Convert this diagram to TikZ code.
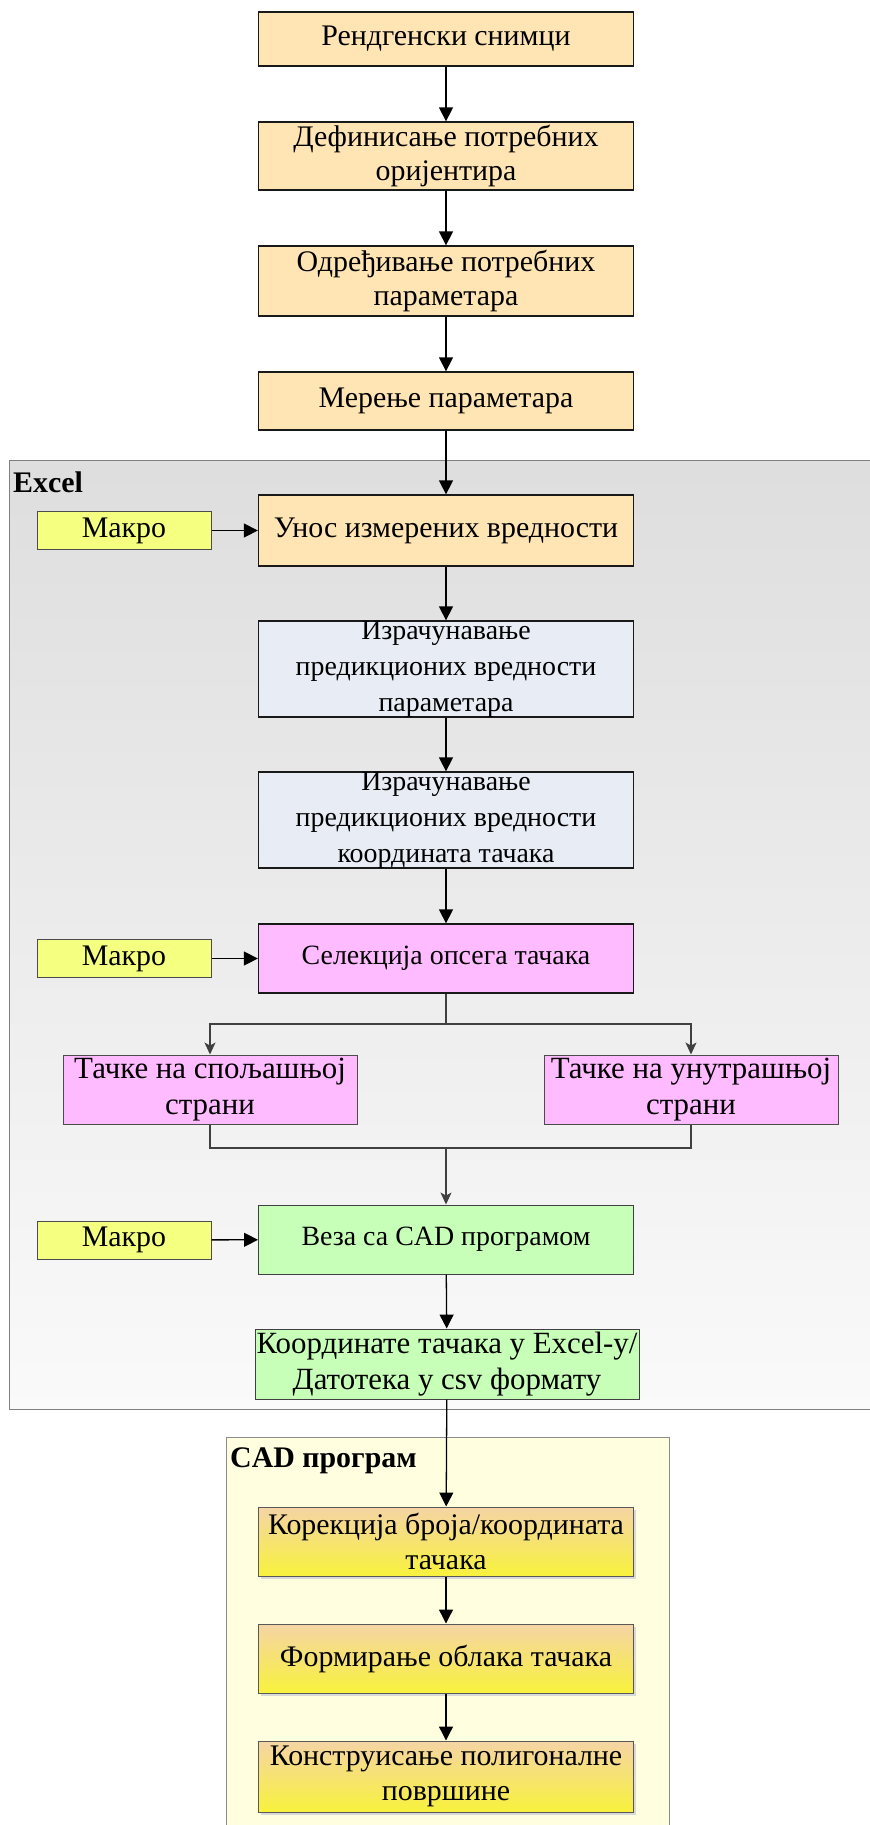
\documentclass[tikz,border=0pt]{standalone}
\usepackage{fontspec}
\setmainfont{Liberation Serif}
\usetikzlibrary{arrows.meta, shadows}

\definecolor{narandzasta}{RGB}{255,229,180}
\definecolor{makro}{RGB}{245,255,128}
\definecolor{plavkasta}{RGB}{232,237,245}
\definecolor{roze}{RGB}{255,187,255}
\definecolor{zelena}{RGB}{200,255,184}
\definecolor{cadpozadina}{RGB}{255,255,224}
\definecolor{gradgore}{RGB}{245,212,165}
\definecolor{graddole}{RGB}{248,242,60}

\begin{document}
\begin{tikzpicture}[x=1bp, y=-1bp,
    korak/.style={draw=black!90, line width=1.3pt, minimum width=375bp, inner sep=0pt,
        align=center, font=\fontsize{30}{35}\selectfont},
    sitno/.style={font=\fontsize{28}{36}\selectfont},
    krupno/.style={font=\fontsize{31}{36}\selectfont},
    makrobox/.style={draw=black!70, line width=1pt, fill=makro, minimum width=174bp,
        minimum height=38bp, inner sep=0pt, font=\fontsize{30}{34}\selectfont},
    cadkorak/.style={korak, draw=black!65, line width=1pt, top color=gradgore, bottom color=graddole,
        drop shadow={shadow xshift=3pt, shadow yshift=-3pt, fill=black!15, opacity=1}},
    strelica/.style={-{Triangle[length=14pt, width=14pt]}, line width=1.3pt, black},
    grana/.style={-{Stealth[length=12pt, width=11pt, inset=3pt]}, line width=1.3pt, black!75},
    linija/.style={line width=1.3pt, black!75},
    naslov/.style={anchor=base west, inner sep=0pt, font=\fontsize{30}{34}\selectfont\bfseries}]

    % Okvir slike
    \useasboundingbox (0,0) rectangle (870,1825);

    % Grupa Excel i grupa CAD program
    \draw[gray, line width=1pt, top color=black!13, bottom color=black!2] (9,460) rectangle (880,1409);
    \node[naslov] (excel) at (13,492) {Excel};
    \draw[black!45, line width=1pt, fill=cadpozadina] (226,1437) rectangle (669,1840);
    \node[naslov] (cad) at (230,1467) {CAD програм};

    % Koraci pre Excel-a
    \node[korak, fill=narandzasta, minimum height=54bp] (snimci) at (446,39) {Рендгенски снимци};
    \node[korak, fill=narandzasta, minimum height=68bp] (orijentiri) at (446,156) {Дефинисање потребних\\ оријентира};
    \node[korak, fill=narandzasta, minimum height=70bp] (parametri) at (446,281) {Одређивање потребних\\ параметара};
    \node[korak, fill=narandzasta, minimum height=58bp] (merenje) at (446,401) {Мерење параметара};

    % Koraci u Excel-u
    \node[korak, fill=narandzasta, minimum height=71bp] (unos) at (446,530.5) {Унос измерених вредности};
    \node[korak, sitno, fill=plavkasta, minimum height=96bp] (predikcija) at (446,669) {Израчунавање\\ предикционих вредности\\ параметара};
    \node[korak, sitno, fill=plavkasta, minimum height=96bp] (koordinate) at (446,820) {Израчунавање\\ предикционих вредности\\ координата тачака};
    \node[korak, sitno, fill=roze, minimum height=69bp] (selekcija) at (446,958.5) {Селекција опсега тачака};
    \node[korak, krupno, fill=roze, draw=black!70, line width=1pt, minimum width=294bp, minimum height=69bp] (spoljasnja) at (210,1089.5) {Тачке на спољашњој\\ страни};
    \node[korak, krupno, fill=roze, draw=black!70, line width=1pt, minimum width=294bp, minimum height=69bp] (unutrasnja) at (691,1089.5) {Тачке на унутрашњој\\ страни};
    \node[korak, sitno, fill=zelena, draw=black!75, line width=1pt, minimum height=69bp] (veza) at (446,1239.5) {Веза са CAD програмом};
    \node[korak, krupno, fill=zelena, draw=black!75, line width=1pt, minimum width=384bp, minimum height=70bp] (datoteka) at (447,1364) {Координате тачака у Excel-у/\\ Датотека у csv формату};

    % Makroi
    \node[makrobox] (makro1) at (124,530.5) {Макро};
    \node[makrobox] (makro2) at (124,958.5) {Макро};
    \node[makrobox] (makro3) at (124,1240) {Макро};

    % Koraci u CAD programu
    \node[cadkorak, minimum height=69bp] (korekcija) at (446,1541.5) {Корекција броја/координата\\ тачака};
    \node[cadkorak, minimum height=69bp] (oblak) at (446,1658.5) {Формирање облака тачака};
    \node[cadkorak, minimum height=71bp] (povrsina) at (446,1776.5) {Конструисање полигоналне\\ површине};

    % Glavni tok
    \draw[strelica] (snimci) -- (orijentiri);
    \draw[strelica] (orijentiri) -- (parametri);
    \draw[strelica] (parametri) -- (merenje);
    \draw[strelica] (merenje) -- (unos);
    \draw[strelica] (unos) -- (predikcija);
    \draw[strelica] (predikcija) -- (koordinate);
    \draw[strelica] (koordinate) -- (selekcija);
    \draw[strelica] (veza) -- (datoteka);
    \draw[strelica] (datoteka) -- (korekcija);
    \draw[strelica] (korekcija) -- (oblak);
    \draw[strelica] (oblak) -- (povrsina);

    % Makroi ka koracima
    \draw[strelica] (makro1) -- (unos);
    \draw[strelica] (makro2) -- (selekcija);
    \draw[strelica] (makro3) -- (veza);

    % Grananje i spajanje
    \coordinate (racva) at (446,1024);
    \coordinate (spoj) at (446,1148);
    \draw[linija] (selekcija) -- (racva);
    \draw[grana] (racva) -| (spoljasnja);
    \draw[grana] (racva) -| (unutrasnja);
    \draw[linija] (spoljasnja) |- (spoj) -| (unutrasnja);
    \draw[grana] (spoj) -- (veza);

\end{tikzpicture}
\end{document}
